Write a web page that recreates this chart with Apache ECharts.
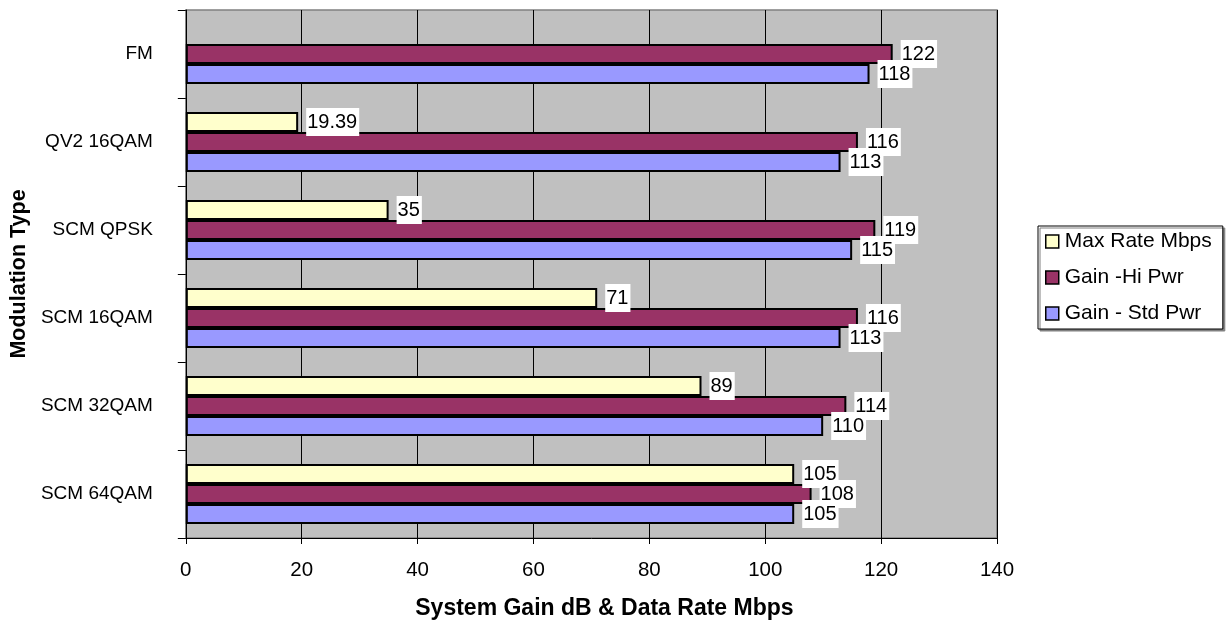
<!DOCTYPE html>
<html>
<head>
<meta charset="utf-8">
<script src="https://cdn.jsdelivr.net/npm/echarts@6/dist/echarts.min.js"></script>
<style>
  html, body { margin: 0; padding: 0; background: #ffffff; }
  #chart { width: 1227px; height: 625px; }
</style>
</head>
<body>
<div id="chart"></div>
<script>
// Modulation types, bottom to top on the category axis
const categories = ['SCM 64QAM', 'SCM 32QAM', 'SCM 16QAM', 'SCM QPSK', 'QV2 16QAM', 'FM'];

// Series values (same order as categories)
const maxRateMbps = [105, 89, 71, 35, 19.39, null];
const gainHiPwr   = [108, 114, 116, 119, 116, 122];
const gainStdPwr  = [105, 110, 113, 115, 113, 118];

const seriesNames = ['Max Rate Mbps', 'Gain -Hi Pwr', 'Gain - Std Pwr'];

// Value axis ticks
const xMin = 0, xMax = 140, xStep = 20;

const FONT = '"Liberation Sans", Arial, sans-serif';

function barSeries(name, data, color) {
  return {
    name: name,
    type: 'bar',
    data: data,
    barWidth: 20,
    barGap: '0%',
    itemStyle: { color: color, borderColor: '#000000', borderWidth: 2 },
    label: {
      show: true,
      position: 'right',
      distance: 8,
      color: '#000000',
      fontFamily: FONT,
      fontSize: 20,
      lineHeight: 22,
      backgroundColor: '#ffffff',
      padding: [3, 2, 3, 1],
      formatter: p => String(p.value)
    }
  };
}

const chart = echarts.init(document.getElementById('chart'), null, { renderer: 'canvas' });

chart.setOption({
  animation: false,
  backgroundColor: '#ffffff',
  textStyle: { fontFamily: FONT },
  grid: {
    left: 185, right: 230, top: 10, bottom: 82,
    show: true,
    backgroundColor: '#c0c0c0',
    borderColor: '#808080',
    borderWidth: 1.5
  },
  legend: {
    orient: 'vertical',
    left: 1038,
    top: 226,
    data: seriesNames,
    icon: 'rect',
    itemWidth: 13,
    itemHeight: 13,
    itemGap: 15,
    padding: [5, 11, 5, 7],
    backgroundColor: '#ffffff',
    borderColor: '#000000',
    borderWidth: 1,
    shadowColor: '#808080',
    shadowOffsetX: 2,
    shadowOffsetY: 2,
    shadowBlur: 0,
    itemStyle: { borderColor: '#000000', borderWidth: 1.5 },
    textStyle: { color: '#000000', fontFamily: FONT, fontSize: 21, lineHeight: 20, padding: [0, 0, 0, 1] }
  },
  xAxis: {
    type: 'value',
    min: xMin, max: xMax, interval: xStep,
    name: 'System Gain dB & Data Rate Mbps',
    nameLocation: 'middle',
    nameGap: 59,
    nameTextStyle: { color: '#000000', fontFamily: FONT, fontSize: 23, fontWeight: 'bold', padding: [0, 0, 0, 26] },
    axisLine: { show: true, lineStyle: { color: '#000000', width: 1 } },
    axisTick: { show: true, length: 6, lineStyle: { color: '#000000' } },
    axisLabel: { color: '#000000', fontFamily: FONT, fontSize: 20.5, margin: 22 },
    splitLine: { show: true, lineStyle: { color: '#000000', width: 1 } }
  },
  yAxis: {
    type: 'category',
    data: categories,
    name: 'Modulation Type',
    nameLocation: 'middle',
    nameGap: 144,
    nameTextStyle: { color: '#000000', fontFamily: FONT, fontSize: 21.5, fontWeight: 'bold' },
    axisLine: { show: true, lineStyle: { color: '#000000', width: 1 } },
    axisTick: { show: true, length: 8, lineStyle: { color: '#000000' } },
    axisLabel: { color: '#000000', fontFamily: FONT, fontSize: 19, margin: 33 },
    splitLine: { show: false }
  },
  series: [
    barSeries(seriesNames[0], maxRateMbps, '#ffffcc'),
    barSeries(seriesNames[1], gainHiPwr, '#993366'),
    barSeries(seriesNames[2], gainStdPwr, '#9999ff')
  ]
});
</script>
</body>
</html>
